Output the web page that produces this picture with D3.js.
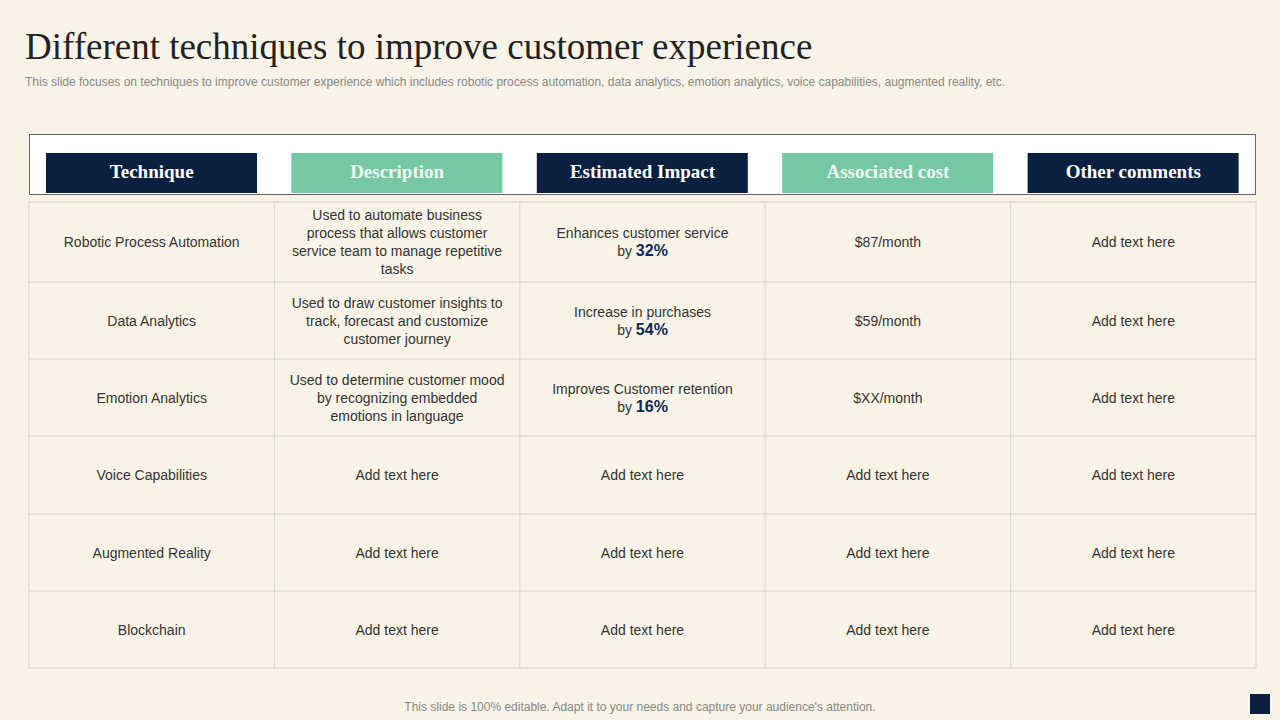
<!DOCTYPE html><html><head><meta charset="utf-8">
<script src="https://cdn.jsdelivr.net/npm/d3@7"></script>
<style>body{margin:0;background:#f8f3e6;}</style></head><body>
<script>
const headers=["Technique","Description","Estimated Impact","Associated cost","Other comments"];
const techniques=["Robotic Process Automation","Data Analytics","Emotion Analytics","Voice Capabilities","Augmented Reality","Blockchain"];
const descriptions=[["Used to automate business","process that allows customer","service team to manage repetitive","tasks"],["Used to draw customer insights to","track, forecast and customize","customer journey"],["Used to determine customer mood","by recognizing embedded","emotions in language"],["Add text here"],["Add text here"],["Add text here"]];
const impacts=[["Enhances customer service","32%"],["Increase in purchases","54%"],["Improves Customer retention","16%"],["Add text here"],["Add text here"],["Add text here"]];
const costs=["$87/month","$59/month","$XX/month","Add text here","Add text here","Add text here"];
const comments=["Add text here","Add text here","Add text here","Add text here","Add text here","Add text here"];
const rowEdges=[202,282,359,436,514,591,668];
const W=1280,H=720,navy="#0b1f40",green="#76c7a4";
const svg=d3.select("body").append("svg").attr("width",W).attr("height",H);
svg.append("rect").attr("width",W).attr("height",H).attr("fill","#f8f3e6");
svg.append("text").attr("x",25).attr("y",59).attr("font-family","Liberation Serif").attr("font-size",37).attr("fill","#222").text("Different techniques to improve customer experience");
svg.append("text").attr("x",25).attr("y",86).attr("font-family","Liberation Sans").attr("font-size",12).attr("fill","#888").attr("textLength",980).text("This slide focuses on techniques to improve customer experience which includes robotic process automation, data analytics, emotion analytics, voice capabilities, augmented reality, etc.");
const x=d3.scaleBand().domain(d3.range(5)).range([29,1256]);
svg.append("rect").attr("x",29.5).attr("y",134.5).attr("width",1226).attr("height",60).attr("fill","#fff").attr("stroke","#666");
headers.forEach((h,i)=>{
 svg.append("rect").attr("x",x(i)+17).attr("y",153).attr("width",211).attr("height",40).attr("fill",i%2?green:navy);
 svg.append("text").attr("x",x(i)+x.bandwidth()/2).attr("y",178).attr("text-anchor","middle").attr("font-family","Liberation Serif").attr("font-weight","bold").attr("font-size",19).attr("fill",i%2?"#eef8f3":"#fff").text(h);
});
const g=svg.append("g");
g.append("rect").attr("x",29).attr("y",202).attr("width",1227).attr("height",466).attr("fill","none").attr("stroke","#d6d6d6");
rowEdges.slice(1,-1).forEach(y=>g.append("line").attr("x1",29).attr("x2",1256).attr("y1",y).attr("y2",y).attr("stroke","#d6d6d6"));
d3.range(1,5).forEach(i=>g.append("line").attr("x1",x(i)).attr("x2",x(i)).attr("y1",202).attr("y2",668).attr("stroke","#d6d6d6"));
function cell(col,row,lines,boldLast){
 const cx=x(col)+x.bandwidth()/2, cy=(rowEdges[row]+rowEdges[row+1])/2;
 const lh=18, y0=cy-(lines.length-1)*lh/2+5;
 lines.forEach((l,k)=>{
  const t=g.append("text").attr("x",cx).attr("y",y0+k*lh).attr("text-anchor","middle").attr("font-family","Liberation Sans").attr("font-size",14).attr("fill","#333");
  if(boldLast&&k==lines.length-1){t.append("tspan").text("by ");t.append("tspan").attr("font-weight","bold").attr("font-size",16).attr("fill","#0b2a5c").text(l);}
  else t.text(l);
 });
}
techniques.forEach((t,r)=>{
 cell(0,r,[t]);cell(1,r,descriptions[r]);
 cell(2,r,impacts[r],impacts[r].length>1);
 cell(3,r,[costs[r]]);cell(4,r,[comments[r]]);
});
svg.append("text").attr("x",640).attr("y",711).attr("text-anchor","middle").attr("font-family","Liberation Sans").attr("font-size",12).attr("fill","#888").text("This slide is 100% editable. Adapt it to your needs and capture your audience's attention.");
svg.append("rect").attr("x",1250).attr("y",694).attr("width",20).attr("height",20).attr("fill",navy);
</script></body></html>
